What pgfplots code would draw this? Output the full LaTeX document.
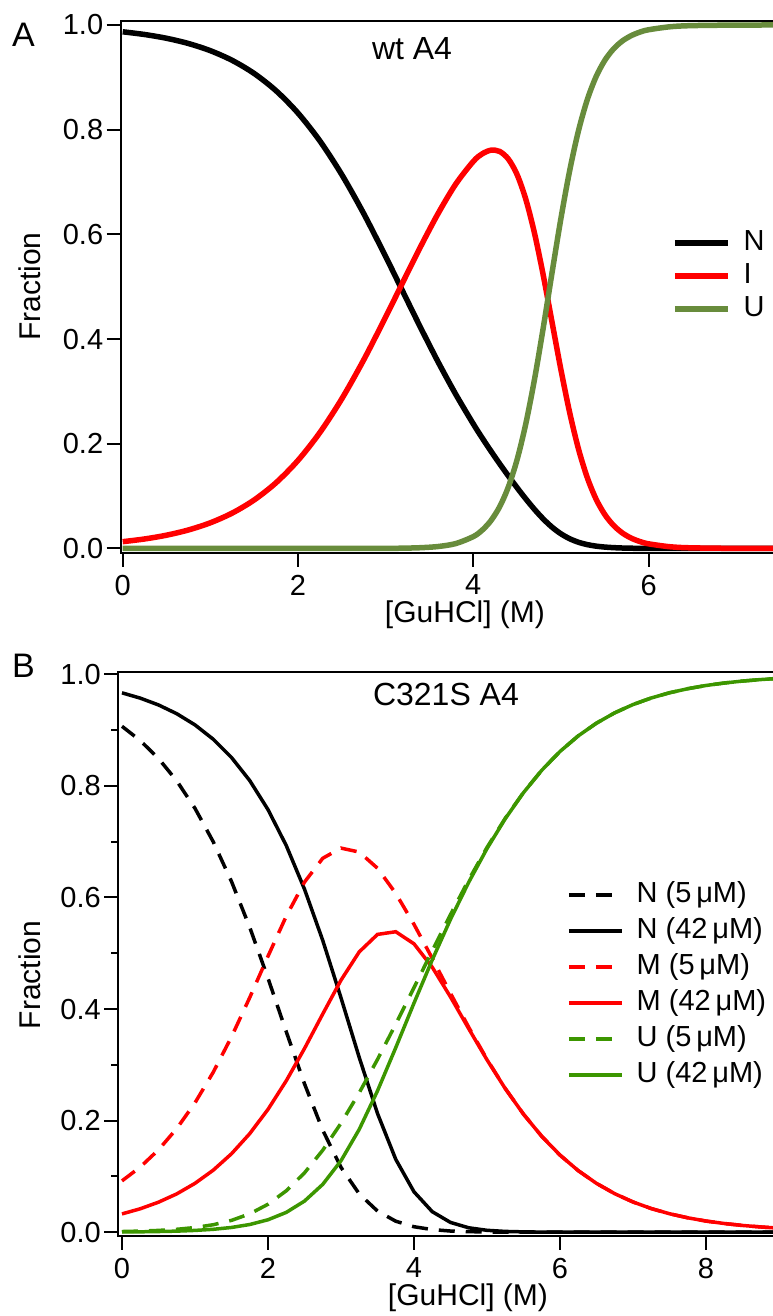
\documentclass[border=0pt]{standalone}
\usepackage{fontspec}
\setmainfont{Liberation Sans}
\usepackage{pgfplots}
\pgfplotsset{compat=1.18}
\usepackage{pgfplotstable}

\definecolor{Agreen}{RGB}{104,140,60}
\definecolor{Bgreen}{RGB}{60,150,0}
\definecolor{myred}{RGB}{255,0,0}

\pgfplotstableread{
x N I U
0 0.987 0.013 0
0.25 0.9818 0.0182 0
0.5 0.9746 0.0254 0
0.75 0.9646 0.0354 0
1.0 0.9509 0.0491 0
1.25 0.9323 0.0677 0
1.5 0.9073 0.0927 0
1.75 0.8743 0.1257 0
2.0 0.8317 0.1683 0
2.25 0.7784 0.2216 0
2.5 0.7140 0.2860 0
2.75 0.6396 0.3604 0.0001
3.0 0.5576 0.4422 0.0002
3.2 0.4894 0.5100 0.0006
3.4 0.4214 0.5771 0.0015
3.6 0.3558 0.6404 0.0038
3.8 0.2944 0.6962 0.0094
4.0 0.2379 0.7394 0.0227
4.1 0.2115 0.7537 0.0348
4.2 0.1863 0.7608 0.0530
4.3 0.1620 0.7585 0.0795
4.4 0.1386 0.7439 0.1176
4.5 0.1160 0.7140 0.1700
4.6 0.0945 0.6664 0.2391
4.7 0.0743 0.6009 0.3248
4.8 0.0561 0.5202 0.4237
4.9 0.0405 0.4307 0.5287
5.0 0.0280 0.3411 0.6309
5.1 0.0186 0.2592 0.7223
5.2 0.0119 0.1900 0.7981
5.3 0.0074 0.1355 0.8572
5.4 0.0045 0.0945 0.9010
5.5 0.0027 0.0649 0.9324
5.6 0.0016 0.0441 0.9543
5.7 0.0009 0.0297 0.9694
5.8 0.0005 0.0199 0.9795
5.9 0.0003 0.0133 0.9864
6.0 0.0002 0.0089 0.9909
6.25 0.0001 0.0032 0.9967
6.5 0 0.0012 0.9988
7.0 0 0.0002 0.9998
7.5 0 0 1.0
8.0 0 0 1.0
}\tabA

\pgfplotstableread{
x N5 N42 M5 M42 U5 U42
0 0.9068 0.9668 0.0920 0.0328 0.0012 0.0004
0.25 0.8812 0.9573 0.1168 0.0420 0.0020 0.0007
0.5 0.8491 0.9451 0.1477 0.0538 0.0032 0.0012
0.75 0.8090 0.9294 0.1858 0.0687 0.0052 0.0019
1.0 0.7597 0.9093 0.2320 0.0876 0.0084 0.0032
1.25 0.6998 0.8836 0.2868 0.1112 0.0134 0.0052
1.5 0.6286 0.8509 0.3502 0.1406 0.0212 0.0085
1.75 0.5464 0.8095 0.4207 0.1767 0.0329 0.0138
2.0 0.4552 0.7575 0.4947 0.2202 0.0501 0.0223
2.25 0.3594 0.6931 0.5664 0.2714 0.0742 0.0355
2.5 0.2660 0.6149 0.6276 0.3293 0.1064 0.0558
2.75 0.1828 0.5230 0.6703 0.3912 0.1470 0.0858
3.0 0.1162 0.4201 0.6885 0.4518 0.1953 0.1281
3.25 0.0686 0.3131 0.6814 0.5025 0.2500 0.1844
3.5 0.0379 0.2128 0.6524 0.5338 0.3097 0.2534
3.75 0.0197 0.1306 0.6073 0.5386 0.3730 0.3308
4.0 0.0098 0.0724 0.5518 0.5169 0.4384 0.4107
4.25 0.0047 0.0368 0.4909 0.4750 0.5046 0.4882
4.5 0.0021 0.0175 0.4281 0.4217 0.5693 0.5608
4.75 0.0010 0.0079 0.3673 0.3647 0.6318 0.6274
5.0 0.0004 0.0034 0.3099 0.3090 0.6897 0.6876
5.25 0.0002 0.0014 0.2577 0.2574 0.7421 0.7412
5.5 0.0001 0.0006 0.2116 0.2115 0.7883 0.7879
5.75 0 0.0002 0.1719 0.1718 0.8281 0.8280
6.0 0 0.0001 0.1382 0.1382 0.8618 0.8617
6.25 0 0 0.1103 0.1103 0.8897 0.8897
6.5 0 0 0.0875 0.0875 0.9125 0.9125
6.75 0 0 0.0690 0.0690 0.9310 0.9310
7.0 0 0 0.0542 0.0542 0.9458 0.9458
7.25 0 0 0.0424 0.0424 0.9576 0.9576
7.5 0 0 0.0331 0.0331 0.9669 0.9669
7.75 0 0 0.0258 0.0258 0.9742 0.9742
8.0 0 0 0.0200 0.0200 0.9800 0.9800
8.25 0 0 0.0156 0.0156 0.9844 0.9844
8.5 0 0 0.0121 0.0121 0.9879 0.9879
8.75 0 0 0.0094 0.0094 0.9906 0.9906
9.0 0 0 0.0072 0.0072 0.9928 0.9928
9.5 0 0 0.0043 0.0043 0.9957 0.9957
10 0 0 0.0026 0.0026 0.9974 0.9974
}\tabB

\pgfplotsset{
  myaxis/.style={
    scale only axis,
    axis line style={line width=2pt},
    every tick/.style={line width=2pt, black},
    tick align=outside,
    major tick length=14pt,
    minor tick length=7pt,
    xtick pos=bottom, ytick pos=left,
    tick label style={font=\fontsize{29}{34}\selectfont},
    /pgf/number format/assume math mode=true,
    label style={font=\fontsize{30}{36}\selectfont},
    yticklabel style={/pgf/number format/.cd, fixed, fixed zerofill, precision=1},
    ytick={0,0.2,0.4,0.6,0.8,1.0},
    xticklabel style={inner sep=2pt, yshift=-5.7pt},
    legend style={draw=none, fill=none, font=\fontsize{29}{34}\selectfont,
      inner sep=0pt, column sep=13pt,
      nodes={inner sep=0pt, text height=20pt, text depth=6pt, anchor=west}},
    legend cell align=left,
    legend image code/.code={\draw[##1] (0pt,0pt) -- (53pt,0pt);},
  }
}

\begin{document}
\begin{tikzpicture}
% Panel A
\begin{axis}[myaxis,
  at={(120.7pt,763pt)}, anchor=south west,
  width=703.2pt, height=532.4pt,
  xmin=-0.023, xmax=8, ymin=-0.0086, ymax=1.0084,
  xtick={0,2,4,6},
  xlabel={[GuHCl] (M)}, ylabel={Fraction},
  xlabel style={at={(axis description cs:0.4896,-0.1155)}, anchor=center, inner sep=0pt},
  ylabel style={at={(axis description cs:-0.129,0.5)}, anchor=center},
  legend style={at={(axis description cs:0.784,0.6067)}, anchor=north west,
    row sep=7pt},
]
\addplot[black, line width=5.5pt, smooth] table[x=x, y=N]{\tabA};
\addlegendentry{N}
\addplot[myred, line width=5.5pt, smooth] table[x=x, y=I]{\tabA};
\addlegendentry{I}
\addplot[Agreen, line width=5.5pt, smooth] table[x=x, y=U]{\tabA};
\addlegendentry{U}
\node[anchor=base, font=\fontsize{32}{38}\selectfont] at (axis description cs:0.4143,0.926) {wt A4};
\end{axis}

% Panel B
\begin{axis}[myaxis,
  at={(118.3pt,80pt)}, anchor=south west,
  width=733.7pt, height=564.3pt,
  xmin=-0.0507, xmax=10, ymin=-0.0068, ymax=1.0047,
  xtick={0,2,4,6,8},
  minor ytick={0.1,0.3,0.5,0.7,0.9},
  xlabel={[GuHCl] (M)}, ylabel={Fraction},
  xlabel style={at={(axis description cs:0.4766,-0.1098)}, anchor=center, inner sep=0pt},
  ylabel style={at={(axis description cs:-0.1203,0.4625)}, anchor=center},
  legend style={at={(axis description cs:0.6115,0.6273)}, anchor=north west,
    row sep=10pt},
]
\addplot[black, line width=3.5pt, dash pattern=on 16pt off 11pt] table[x=x, y=N5]{\tabB};
\addlegendentry{N (5\,μM)}
\addplot[black, line width=3.5pt] table[x=x, y=N42]{\tabB};
\addlegendentry{N (42\,μM)}
\addplot[myred, line width=3.5pt, dash pattern=on 16pt off 11pt] table[x=x, y=M5]{\tabB};
\addlegendentry{M (5\,μM)}
\addplot[myred, line width=3.5pt] table[x=x, y=M42]{\tabB};
\addlegendentry{M (42\,μM)}
\addplot[Bgreen, line width=3.5pt, dash pattern=on 16pt off 11pt] table[x=x, y=U5]{\tabB};
\addlegendentry{U (5\,μM)}
\addplot[Bgreen, line width=3.5pt] table[x=x, y=U42]{\tabB};
\addlegendentry{U (42\,μM)}
\node[anchor=base, font=\fontsize{32}{38}\selectfont] at (axis description cs:0.4466,0.94) {C321S A4};
\end{axis}

\node[anchor=base west, inner sep=0pt, font=\fontsize{34}{40}\selectfont] at (12pt,1269pt) {A};
\node[anchor=base west, inner sep=0pt, font=\fontsize{34}{40}\selectfont] at (12pt,638pt) {B};

\pgfresetboundingbox
\path[use as bounding box] (0pt,0pt) rectangle (773pt,1316pt);
\end{tikzpicture}
\end{document}
